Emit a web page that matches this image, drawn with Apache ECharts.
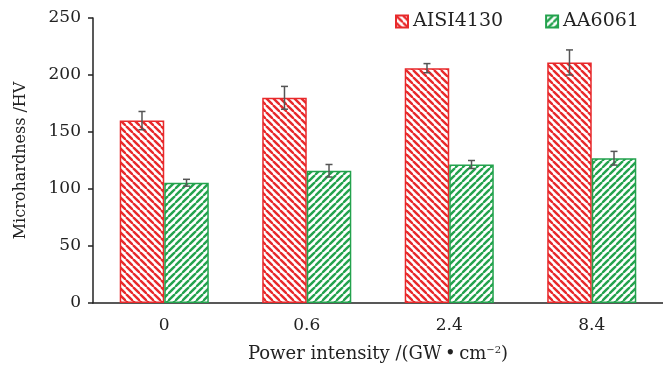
<!DOCTYPE html>
<html><head><meta charset="utf-8">
<script src="https://cdn.jsdelivr.net/npm/echarts@6/dist/echarts.min.js"></script>
<style>html,body{margin:0;padding:0;background:#fff}#c{width:663px;height:368px}</style>
</head><body><div id="c"></div>
<script>
const categories = ['0', '0.6', '2.4', '8.4'];
const seriesNames = ['AISI4130', 'AA6061'];
const aisiValues = [160, 180, 206, 211];
const aisiErrors = [8, 10, 4, 11];
const aaValues = [105.5, 116, 121.5, 127];
const aaErrors = [3, 5.5, 3.5, 6];
const yTicks = [0, 50, 100, 150, 200, 250];

const RED = '#e8292b', GREEN = '#23a24d';
function hatch(color, dir) {
  const s = 7, c = document.createElement('canvas');
  c.width = s; c.height = s;
  const g = c.getContext('2d');
  g.fillStyle = '#fff'; g.fillRect(0, 0, s, s);
  g.strokeStyle = color; g.lineWidth = 2.4;
  for (const k of [-s, 0, s]) {
    g.beginPath();
    if (dir > 0) { g.moveTo(k, 0); g.lineTo(k + s, s); }
    else { g.moveTo(k + s, 0); g.lineTo(k, s); }
    g.stroke();
  }
  return c;
}
const FONT = 'DejaVu Serif';
const chart = echarts.init(document.getElementById('c'), null, {renderer: 'canvas'});
const catGap = 0.375;
function errSeries(vals, errs, side) {
  return {
    type: 'custom', silent: true, z: 10,
    data: vals.map((v, i) => [i, v, errs[i]]),
    renderItem(params, api) {
      const i = api.value(0), v = api.value(1), e = api.value(2);
      const band = api.size([1, 0])[0];
      const bw = band * (1 - catGap) / 2;
      const x = api.coord([i, 0])[0] + side * bw / 2;
      const top = api.coord([i, v + e])[1], bot = api.coord([i, v - e])[1];
      const cw = 3.5;
      const st = {stroke: '#555', lineWidth: 1.5};
      return {type: 'group', children: [
        {type: 'line', shape: {x1: x, y1: top, x2: x, y2: bot}, style: st},
        {type: 'line', shape: {x1: x - cw, y1: top, x2: x + cw, y2: top}, style: st},
        {type: 'line', shape: {x1: x - cw, y1: bot, x2: x + cw, y2: bot}, style: st}
      ]};
    }
  };
}
chart.setOption({
  animation: false,
  grid: {left: 93, right: -6, top: 18, bottom: 65, containLabel: false},
  legend: {
    data: seriesNames.map(n => ({name: n, icon: 'rect'})), top: 7, left: 390, itemWidth: 12, itemHeight: 12, itemGap: 42,
    textStyle: {fontFamily: FONT, fontSize: 19, color: '#222'}
  },
  xAxis: {
    type: 'category', data: categories,
    axisLine: {lineStyle: {color: '#222', width: 1.5}},
    axisTick: {show: false},
    axisLabel: {fontFamily: FONT, fontSize: 17, color: '#222', margin: 14},
    name: '{a|Power intensity /(GW\u2009\u2022\u2009cm}{s|\u22122}{a|)}',
    nameLocation: 'middle', nameGap: 42,
    nameTextStyle: {rich: {
      a: {fontFamily: FONT, fontSize: 18, color: '#222'},
      s: {fontFamily: FONT, fontSize: 10, color: '#222', verticalAlign: 'top', padding: [0, 0, 8, 0]}
    }}
  },
  yAxis: {
    type: 'value', min: yTicks[0], max: yTicks[yTicks.length - 1], interval: 50,
    splitLine: {show: false},
    axisLine: {show: true, lineStyle: {color: '#222', width: 1.5}},
    axisTick: {show: true, length: 5, lineStyle: {color: '#222', width: 1.5}},
    axisLabel: {fontFamily: FONT, fontSize: 17, color: '#222', margin: 12},
    name: 'Microhardness /HV', nameLocation: 'middle', nameGap: 64,
    nameTextStyle: {fontFamily: FONT, fontSize: 16, color: '#222'}
  },
  series: [
    {name: seriesNames[0], type: 'bar', data: aisiValues, barGap: '0%', barCategoryGap: (catGap * 100) + '%',
     itemStyle: {color: {image: hatch(RED, 1), repeat: 'repeat'}, borderColor: RED, borderWidth: 1.5}},
    {name: seriesNames[1], type: 'bar', data: aaValues, barGap: '0%', barCategoryGap: (catGap * 100) + '%',
     itemStyle: {color: {image: hatch(GREEN, -1), repeat: 'repeat'}, borderColor: GREEN, borderWidth: 1.5}},
    errSeries(aisiValues, aisiErrors, -1),
    errSeries(aaValues, aaErrors, 1)
  ]
});
</script></body></html>
